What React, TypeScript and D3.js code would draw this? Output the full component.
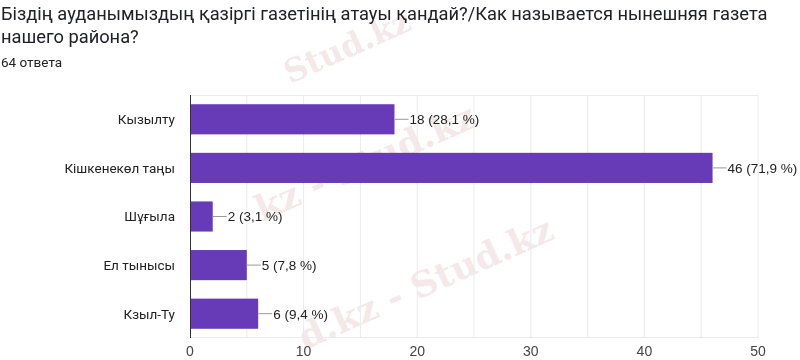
import React, { useEffect, useRef } from 'react';
import * as d3 from 'd3';

const titleLines = [
  'Біздің ауданымыздың қазіргі газетінің атауы қандай?/Как называется нынешняя газета',
  'нашего района?',
];
const responsesLabel = '64 ответа';
const categories = ['Кызылту', 'Кішкенекөл таңы', 'Шұғыла', 'Ел тынысы', 'Кзыл-Ту'];
const counts = [18, 46, 2, 5, 6];
const percents = ['28,1', '71,9', '3,1', '7,8', '9,4'];
const xTicks = [0, 10, 20, 30, 40, 50];
const gridValues = [5, 10, 15, 20, 25, 30, 35, 40, 45, 50];

const App = () => {
  const svgRef = useRef<SVGSVGElement>(null);
  const width = 800;
  const height = 360;

  useEffect(() => {
    const svg = d3.select(svgRef.current);
    svg.selectAll('*').remove();

    const font = 'Roboto, Arial, sans-serif';
    const arial = '"Liberation Sans", Arial, sans-serif';
    const left = 190, right = 758, top = 95, bottom = 338;

    const x = d3.scaleLinear().domain([0, 50]).range([left, right]);
    const y = d3.scaleBand().domain(categories).range([top, bottom]).paddingInner(0.38).paddingOuter(0.19);

    svg.append('rect').attr('width', width).attr('height', height).attr('fill', '#fff');

    // watermarks (behind everything)
    const wm = svg.append('g').attr('font-family', 'DejaVu Serif, serif').attr('font-weight', 'bold')
      .attr('fill', '#c98a8a').attr('opacity', 0.2);
    [
      { t: 'Stud.kz', x: 290, y: 84, s: 32 },
      { t: 'kz - Stud.kz', x: 262, y: 222, s: 36 },
      { t: 'd.kz - Stud.kz', x: 305, y: 350, s: 36 },
    ].forEach(w => {
      wm.append('text').attr('font-size', w.s)
        .attr('transform', `translate(${w.x},${w.y}) rotate(-24)`).text(w.t);
    });

    // title
    titleLines.forEach((t, i) => {
      svg.append('text')
        .attr('x', 1).attr('y', 20 + i * 23)
        .attr('font-family', font).attr('font-size', 18.3).attr('fill', '#202124')
        .text(t);
    });
    svg.append('text')
      .attr('x', 1).attr('y', 67)
      .attr('font-family', font).attr('font-size', 13.5).attr('fill', '#202124')
      .text(responsesLabel);

    // grid
    const g = svg.append('g');
    g.selectAll('.grid')
      .data(gridValues)
      .enter().append('line')
      .attr('x1', d => x(d)).attr('x2', d => x(d))
      .attr('y1', top).attr('y2', bottom)
      .attr('stroke', '#ebebeb');
    g.append('line').attr('x1', left).attr('x2', right).attr('y1', top + 0.5).attr('y2', top + 0.5).attr('stroke', '#ebebeb');
    g.append('line').attr('x1', left).attr('x2', right).attr('y1', bottom - 0.5).attr('y2', bottom - 0.5).attr('stroke', '#ebebeb');

    // bars
    g.selectAll('.bar')
      .data(categories)
      .enter().append('rect')
      .attr('x', x(0))
      .attr('y', d => y(d)!)
      .attr('width', (d, i) => x(counts[i]) - x(0))
      .attr('height', y.bandwidth())
      .attr('fill', '#673ab7');

    // value labels
    categories.forEach((c, i) => {
      const xe = x(counts[i]);
      const yc = y(c)! + y.bandwidth() / 2;
      g.append('line')
        .attr('x1', xe).attr('x2', xe + 14)
        .attr('y1', yc).attr('y2', yc)
        .attr('stroke', '#999');
      g.append('text')
        .attr('x', xe + 15).attr('y', yc)
        .attr('dy', '0.36em')
        .attr('font-family', arial).attr('font-size', 13.5).attr('fill', '#222')
        .text(`${counts[i]} (${percents[i]} %)`);
    });

    // category labels
    categories.forEach(c => {
      g.append('text')
        .attr('x', 175).attr('y', y(c)! + y.bandwidth() / 2)
        .attr('dy', '0.36em').attr('text-anchor', 'end')
        .attr('font-family', font).attr('font-size', 13.5).attr('fill', '#222')
        .text(c);
    });

    // axis
    g.append('line').attr('x1', left + 0.5).attr('x2', left + 0.5).attr('y1', top).attr('y2', bottom).attr('stroke', '#333');
    g.selectAll('.tick')
      .data(xTicks)
      .enter().append('text')
      .attr('x', d => x(d)).attr('y', 356)
      .attr('text-anchor', 'middle')
      .attr('font-family', arial).attr('font-size', 14).attr('fill', '#444')
      .text(d => d);
  }, []);

  return (
    <svg ref={svgRef} width={width} height={height}
      style={{ position: 'absolute', left: 0, top: 0, display: 'block' }} />
  );
};

export default App;
